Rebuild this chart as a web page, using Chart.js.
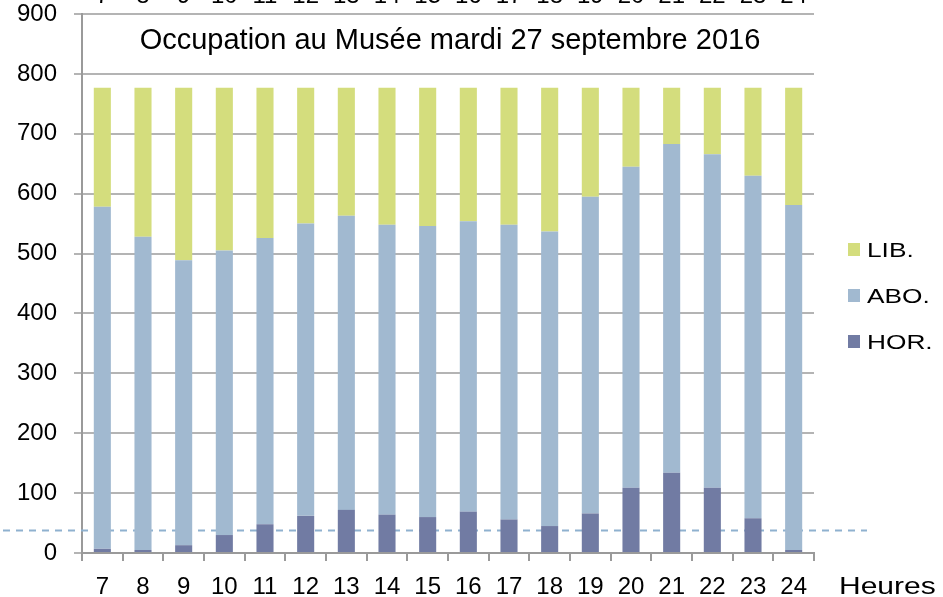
<!DOCTYPE html>
<html lang="fr">
<head>
<meta charset="UTF-8">
<script src="https://cdn.jsdelivr.net/npm/chart.js@4.4.1/dist/chart.umd.min.js"></script>
<title>Occupation au Musée</title>
<style>
    html, body { margin: 0; padding: 0; background: #fff; }
    #wrap { width: 943px; height: 597px; }
</style>
</head>
<body>
<div id="wrap"><canvas id="occChart" width="943" height="597"></canvas></div>
<script>
// heures de la journée
const heures = ['7', '8', '9', '10', '11', '12', '13', '14', '15', '16', '17', '18', '19', '20', '21', '22', '23', '24'];
// places horaires
const hor = [7, 5, 13, 30, 48, 62, 72, 64, 60, 69, 56, 45, 66, 109, 134, 109, 58, 5];
// places abonnés
const abo = [571, 523, 476, 475, 478, 488, 491, 484, 486, 485, 492, 492, 529, 536, 549, 557, 572, 576];
// places libres
const lib = [199, 249, 288, 272, 251, 227, 214, 229, 231, 223, 229, 240, 182, 132, 94, 111, 147, 196];
const seuil = 38;
const titre = 'Occupation au Musée mardi 27 septembre 2016';
const axeX = 'Heures';

const FONT = '"Liberation Sans", Arial, sans-serif';

const extras = {
    id: 'extras',
    beforeDatasetsDraw(chart) {
        // ligne pointillée du seuil
        const ctx = chart.ctx;
        const y = Math.round(chart.scales.y.getPixelForValue(seuil)) + 0.5;
        ctx.save();
        ctx.strokeStyle = '#8fb1cf';
        ctx.lineWidth = 2;
        ctx.setLineDash([7, 6]);
        ctx.beginPath();
        ctx.moveTo(3, y);
        ctx.lineTo(867, y);
        ctx.stroke();
        ctx.restore();
    },
    afterDraw(chart) {
        const ctx = chart.ctx;
        const area = chart.chartArea;
        const xs = chart.scales.x;
        ctx.save();
        ctx.fillStyle = '#000';

        // étiquettes coupées en haut
        ctx.font = '24px ' + FONT;
        ctx.textAlign = 'center';
        ctx.textBaseline = 'alphabetic';
        heures.forEach((h, i) => {
            ctx.fillText(h, xs.getPixelForValue(i), 3);
        });

        // titre
        ctx.font = '29px ' + FONT;
        ctx.fillText(titre, (area.left + area.right) / 2 + 2, 49);

        // "Heures"
        ctx.save();
        ctx.translate(839, 594);
        ctx.scale(1.25, 1);
        ctx.font = '24px ' + FONT;
        ctx.textAlign = 'left';
        ctx.fillText(axeX, 0, 0);
        ctx.restore();

        // légende
        const items = chart.data.datasets.slice().reverse();
        items.forEach((ds, i) => {
            const base = 257 + i * 46;
            ctx.fillStyle = ds.backgroundColor;
            ctx.fillRect(848, base - 14, 12, 13);
            ctx.fillStyle = '#000';
            ctx.save();
            ctx.translate(867, base);
            ctx.scale(1.25, 1);
            ctx.font = '21px ' + FONT;
            ctx.textAlign = 'left';
            ctx.fillText(ds.label, 0, 0);
            ctx.restore();
        });
        ctx.restore();
    }
};

const ctx = document.getElementById('occChart').getContext('2d');
new Chart(ctx, {
    type: 'bar',
    data: {
        labels: heures,
        datasets: [
            { label: 'HOR.', data: hor, backgroundColor: '#717ba3' },
            { label: 'ABO.', data: abo, backgroundColor: '#a1b9d0' },
            { label: 'LIB.', data: lib, backgroundColor: '#d4dd7d' }
        ]
    },
    options: {
        responsive: false,
        animation: false,
        datasets: {
            bar: { categoryPercentage: 1, barPercentage: 0.42 }
        },
        layout: { padding: { top: 14, right: 129, left: 0, bottom: 0 } },
        scales: {
            x: {
                stacked: true,
                grid: { offset: true, drawOnChartArea: false, drawTicks: true, tickLength: 8, color: '#9a9a9a', lineWidth: 2 },
                border: { color: '#9a9a9a', width: 2 },
                ticks: { color: '#000', font: { size: 24, family: FONT }, padding: 12, maxRotation: 0, autoSkip: false },
                afterFit(scale) {
                    scale.height = 44;
                    scale.paddingLeft = 0;
                    scale.paddingRight = 0;
                }
            },
            y: {
                stacked: true,
                min: 0,
                max: 900,
                grid: { color: '#b4b4b4', lineWidth: 2, tickLength: 8 },
                border: { color: '#9a9a9a', width: 2 },
                ticks: { stepSize: 100, color: '#000', font: { size: 24, family: FONT }, padding: 17 },
                afterFit(scale) {
                    scale.width = 82;
                    scale.paddingTop = 0;
                    scale.paddingBottom = 0;
                }
            }
        },
        plugins: {
            legend: { display: false },
            tooltip: { enabled: false },
            title: { display: false }
        }
    },
    plugins: [extras]
});
</script>
</body>
</html>
